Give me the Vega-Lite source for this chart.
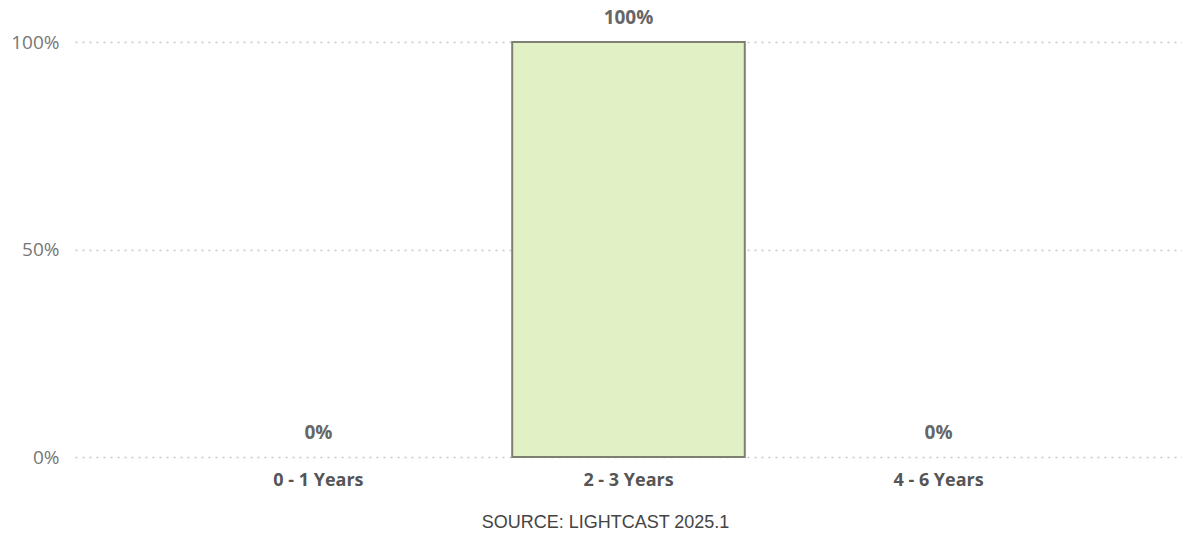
{
  "$schema": "https://vega.github.io/schema/vega-lite/v6.json",
  "autosize": {"type": "none"},
  "padding": {"left": 75, "top": 42, "right": 0, "bottom": 93},
  "width": 1107,
  "height": 415,
  "background": "white",
  "config": {"view": {"stroke": null}, "font": "Open Sans"},
  "data": {"values": [
    {"experience": "0 - 1 Years", "share": 0},
    {"experience": "2 - 3 Years", "share": 1},
    {"experience": "4 - 6 Years", "share": 0}
  ]},
  "encoding": {
    "x": {
      "field": "experience", "type": "nominal",
      "scale": {"domain": ["0 - 1 Years", "2 - 3 Years", "4 - 6 Years"], "paddingInner": 0.25, "paddingOuter": 0.41},
      "axis": {
        "title": "SOURCE: LIGHTCAST 2025.1",
        "titleFont": "Liberation Sans", "titleFontSize": 18, "titleFontWeight": "normal",
        "titleColor": "#444", "titlePadding": 24, "titleX": 530,
        "labelAngle": 0, "labelFontSize": 18, "labelFontWeight": "bold", "labelColor": "#555",
        "labelPadding": 14, "domain": false, "ticks": false
      }
    },
    "y": {
      "field": "share", "type": "quantitative",
      "scale": {"domain": [0, 1]},
      "axis": {
        "title": null, "format": ".0%", "values": [0, 0.5, 1],
        "labelFontSize": 19, "labelColor": "#777", "labelPadding": 16,
        "domain": false, "ticks": false,
        "grid": true, "gridColor": "#c8c8c8", "gridDash": [2, 5], "gridWidth": 1.5
      }
    }
  },
  "layer": [
    {
      "transform": [{"filter": "datum.share > 0"}],
      "mark": {"type": "bar", "fill": "#e2f0c6", "stroke": "#7f7f72", "strokeWidth": 2}
    },
    {
      "mark": {"type": "text", "dy": -24, "fontSize": 19, "fontWeight": "bold", "color": "#666", "baseline": "middle"},
      "encoding": {"text": {"field": "share", "type": "quantitative", "format": ".0%"}}
    }
  ]
}
